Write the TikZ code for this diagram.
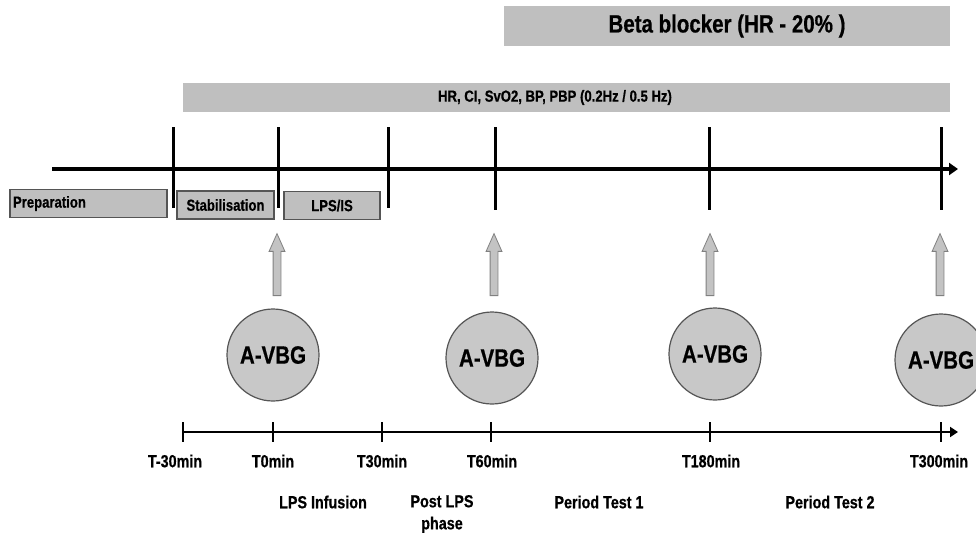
\documentclass[tikz,border=0pt]{standalone}
\usepackage{fontspec}
\setmainfont[FakeStretch=0.82,BoldFeatures={FakeBold=0.6}]{Liberation Sans}
\definecolor{boxgray}{RGB}{191,191,191}
\definecolor{edgegray}{RGB}{85,85,85}
\definecolor{circgray}{RGB}{200,200,200}
\definecolor{arrowgray}{RGB}{195,195,195}
\usetikzlibrary{arrows.meta,positioning,shapes.arrows}

\begin{document}
\begin{tikzpicture}[x=1pt,y=-1pt]
  \tikzstyle{bar}=[rectangle,fill=boxgray,draw=none,inner sep=0pt,font=\bfseries]
  \tikzstyle{phasebox}=[rectangle,fill=boxgray,draw=edgegray,line width=1.2pt,inner sep=0pt,minimum height=28pt,font=\bfseries\fontsize{16}{18}\selectfont]
  \tikzstyle{vbg}=[circle,fill=circgray,draw=edgegray,line width=1.2pt,minimum size=92pt,inner sep=0pt,font=\bfseries\fontsize{25}{28}\selectfont]
  \tikzstyle{upar}=[single arrow,rotate=90,fill=arrowgray,draw=gray,line width=0.8pt,minimum height=62pt,single arrow head extend=4pt,inner xsep=0pt,inner ysep=3.5pt,single arrow tip angle=48]
  \tikzstyle{tlabel}=[inner sep=0pt,align=center,font=\bfseries\fontsize{17.5}{22}\selectfont]
  \tikzstyle{vmark}=[line width=3pt]
  \tikzstyle{smark}=[line width=2.2pt]
  \useasboundingbox (0,0) rectangle (976,536);
  \clip (0,0) rectangle (976,536);

  % top bars
  \node[bar,minimum width=446pt,minimum height=40pt,font=\bfseries\fontsize{25}{28}\selectfont] (beta) at (727,26) {Beta blocker (HR - 20\% )};
  \node[bar,minimum width=767pt,minimum height=29pt] (signals) at (566.5,97.5) {};
  \node[font=\bfseries\fontsize{16}{18}\selectfont,inner sep=0pt] (siglabel) at (555,97.5) {HR, CI, SvO2, BP, PBP (0.2Hz / 0.5 Hz)};

  % main time line
  \coordinate (ax0) at (52,169);
  \coordinate (ax1) at (958,169);
  \draw[line width=4pt,-{Triangle[length=9pt,width=12pt]}] (ax0) -- (ax1);
  \draw[vmark] (173,127) -- (173,208);
  \draw[vmark] (278,127) -- (278,208);
  \draw[vmark] (388,127) -- (388,208);
  \draw[vmark] (495,127) -- (495,210);
  \draw[vmark] (709,127) -- (709,210);
  \draw[vmark] (941,127) -- (941,210);

  % phase boxes
  \node[phasebox,minimum width=157pt,text width=151pt,align=left] (prep) at (88.5,203.5) {Preparation};
  \node[phasebox,minimum width=97pt] (stab) at (225.5,205) {Stabilisation};
  \node[phasebox,minimum width=96pt] (lps) at (332,205.5) {LPS/IS};

  % sampling
  \node[upar] (up1) at (277,269) {};
  \node[upar] (up2) at (494,269) {};
  \node[upar] (up3) at (710,269) {};
  \node[upar] (up4) at (940,269) {};
  \node[vbg] (v1) at (273,355) {A-VBG};
  \node[vbg] (v2) at (492,358) {A-VBG};
  \node[vbg] (v3) at (715,354) {A-VBG};
  \node[vbg] (v4) at (941,360) {A-VBG};

  % lower time scale
  \coordinate (bx0) at (183,432);
  \coordinate (bx1) at (958,432);
  \draw[smark,-{Triangle[length=8pt,width=10pt]}] (bx0) -- (bx1);
  \draw[smark] (183,422) -- (183,442);
  \draw[smark] (273,422) -- (273,442);
  \draw[smark] (382,422) -- (382,442);
  \draw[smark] (491,422) -- (491,442);
  \draw[smark] (710,422) -- (710,442);
  \draw[smark] (941,422) -- (941,442);
  \node[tlabel] (tm30) at (175,461) {T-30min};
  \node[tlabel] (t0) at (273,461) {T0min};
  \node[tlabel] (t30) at (382,461) {T30min};
  \node[tlabel] (t60) at (492,461) {T60min};
  \node[tlabel] (t180) at (711,461) {T180min};
  \node[tlabel] (t300) at (939,461) {T300min};
  \node[tlabel] (inf) at (323,502) {LPS Infusion};
  \node[tlabel] (post) at (442,514) {Post LPS\\phase};
  \node[tlabel] (test1) at (599,502) {Period Test 1};
  \node[tlabel] (test2) at (830,502) {Period Test 2};
\end{tikzpicture}
\end{document}
